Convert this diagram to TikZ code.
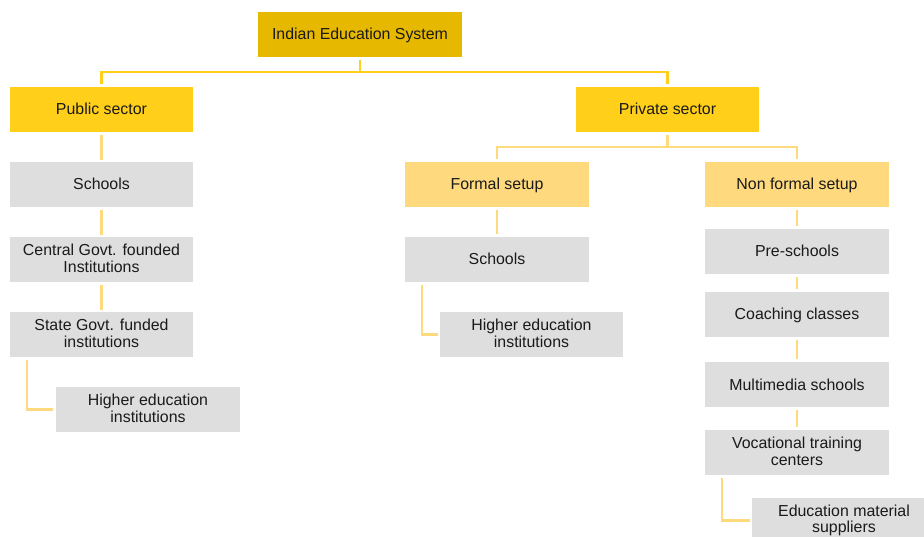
\documentclass[tikz,border=0pt]{standalone}
\usepackage{fontspec}
\setmainfont{Liberation Sans}
\definecolor{topgold}{HTML}{E6B800}
\definecolor{secgold}{HTML}{FFCF1A}
\definecolor{lightgold}{HTML}{FFD97D}
\definecolor{boxgray}{HTML}{DEDEDE}
\definecolor{txt}{HTML}{1A1A1A}
\newcommand\mynodestrut{\rule[-3pt]{0pt}{17pt}}
\tikzset{
  base/.style={inner sep=0pt, minimum height=45pt, align=center, text=txt,
    font=\fontsize{15.9}{16.5}\selectfont,
    execute at begin node=\mynodestrut, execute at end node=\mynodestrut},
  topbox/.style={base, fill=topgold, minimum width=204pt},
  secbox/.style={base, fill=secgold, minimum width=183pt},
  setbox/.style={base, fill=lightgold, minimum width=184pt},
  graybox/.style={base, fill=boxgray, minimum width=183pt},
  gline/.style={draw=secgold, line width=2.5pt},
  lline/.style={draw=lightgold, line width=2.5pt},
}
\begin{document}
\begin{tikzpicture}[x=1pt,y=-1pt]
\useasboundingbox (0,0) rectangle (924,537);
\clip (0,0) rectangle (924,537);
% nodes
\node[topbox] (ies) at (360,34.5) {Indian Education System};
\node[secbox] (pub) at (101.5,109.5) {Public sector};
\node[secbox] (priv) at (667.5,109.5) {Private sector};
% public column
\node[graybox] (ps1) at (101.5,184.5) {Schools};
\node[graybox] (ps2) at (101.5,259.5) {Central Govt. founded\\Institutions};
\node[graybox] (ps3) at (101.5,334.5) {State Govt. funded\\institutions};
\node[graybox, minimum width=184pt] (ph) at (148,409.5) {Higher education\\institutions};
% formal column
\node[setbox] (fo) at (497,184.5) {Formal setup};
\node[graybox, minimum width=184pt] (fs) at (497,259.5) {Schools};
\node[graybox] (fh) at (531.5,334.5) {Higher education\\institutions};
% non formal column
\node[setbox] (nf) at (797,184.5) {Non formal setup};
\node[graybox, minimum width=184pt] (n1) at (797,251.5) {Pre-schools};
\node[graybox, minimum width=184pt] (n2) at (797,314.5) {Coaching classes};
\node[graybox, minimum width=184pt] (n3) at (797,384.5) {Multimedia schools};
\node[graybox, minimum width=184pt] (n4) at (797,452.5) {Vocational training\\centers};
\node[graybox, minimum width=184pt] (n5) at (844,520.5) {Education material\\suppliers};
% top connectors
\coordinate (t1) at (360,72);
\draw[gline, shorten <=3pt] (ies.south) -- (t1);
\draw[gline, shorten <=3pt, shorten >=3pt] (pub.north) |- (t1) -| (priv.north);
% private connectors
\coordinate (t2) at (667.5,147);
\draw[lline, shorten <=3pt] (priv.south) -- (t2);
\draw[lline, shorten <=3pt, shorten >=3pt] (fo.north) |- (t2) -| (nf.north);
% public chain
\draw[lline, shorten <=3pt, shorten >=2pt] (pub.south) -- (ps1.north);
\draw[lline, shorten <=3pt, shorten >=2pt] (ps1.south) -- (ps2.north);
\draw[lline, shorten <=3pt, shorten >=2pt] (ps2.south) -- (ps3.north);
\draw[lline, shorten <=3pt, shorten >=3pt] ([xshift=17pt]ps3.south west) |- (ph.west);
% formal chain
\draw[lline, shorten <=3pt, shorten >=3pt] (fo.south) -- (fs.north);
\draw[lline, shorten <=3pt, shorten >=2pt] ([xshift=17pt]fs.south west) |- (fh.west);
% non formal chain
\draw[lline, shorten <=3pt, shorten >=3pt] (nf.south) -- (n1.north);
\draw[lline, shorten <=3pt, shorten >=3pt] (n1.south) -- (n2.north);
\draw[lline, shorten <=3pt, shorten >=3pt] (n2.south) -- (n3.north);
\draw[lline, shorten <=3pt, shorten >=3pt] (n3.south) -- (n4.north);
\draw[lline, shorten <=3pt, shorten >=2pt] ([xshift=17pt]n4.south west) |- (n5.west);
\end{tikzpicture}
\end{document}
